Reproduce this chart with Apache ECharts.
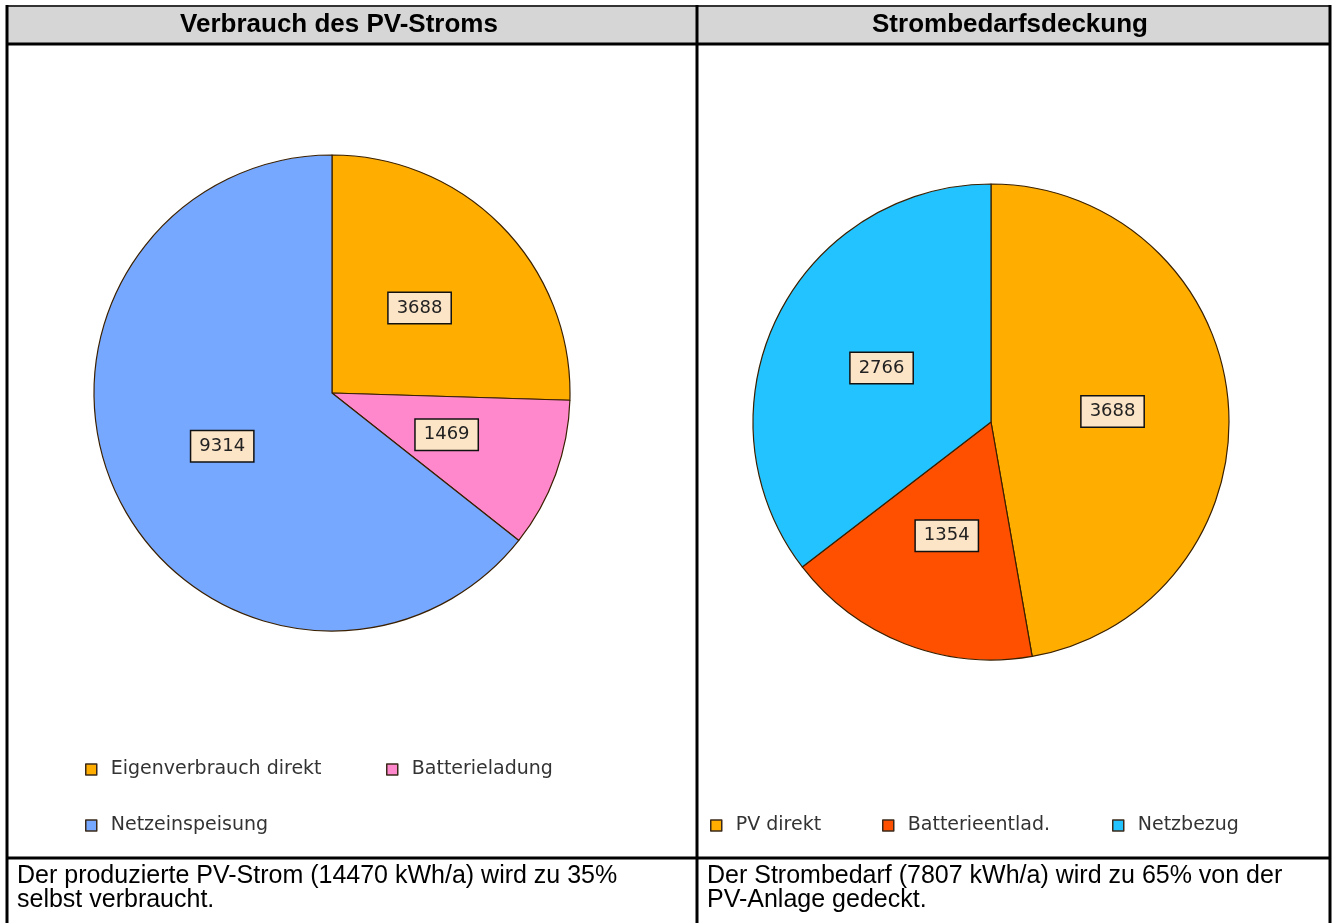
<!DOCTYPE html>
<html>
<head>
<meta charset="utf-8">
<script src="https://cdn.jsdelivr.net/npm/echarts@6/dist/echarts.min.js"></script>
<style>
  html, body { margin: 0; padding: 0; background: #fff; }
  #chart { width: 1337px; height: 923px; }
</style>
</head>
<body>
<div id="chart"></div>
<script>
// data
var pvNames = ['Eigenverbrauch direkt', 'Batterieladung', 'Netzeinspeisung'];
var pvValues = [3688, 1469, 9314];
var pvColors = ['#FFAE00', '#FF88CC', '#77A8FF'];

var demandNames = ['PV direkt', 'Batterieentlad.', 'Netzbezug'];
var demandValues = [3688, 1354, 2766];
var demandColors = ['#FFAE00', '#FF5000', '#22C3FF'];

var titles = ['Verbrauch des PV-Stroms', 'Strombedarfsdeckung'];
var notes = [
  'Der produzierte PV-Strom (14470 kWh/a) wird zu 35%\nselbst verbraucht.',
  'Der Strombedarf (7807 kWh/a) wird zu 65% von der\nPV-Anlage gedeckt.'
];

var chart = echarts.init(document.getElementById('chart'));

function toData(names, values, colors) {
  return names.map(function (n, i) {
    return { name: n, value: values[i], itemStyle: { color: colors[i] } };
  });
}

var labelStyle = {
  show: true,
  position: 'inside',
  formatter: '{c}',
  fontFamily: 'DejaVu Sans',
  fontSize: 18,
  color: '#222',
  backgroundColor: '#FCE4C6',
  borderColor: '#111',
  borderWidth: 1.5,
  padding: [7, 8, 5, 8]
};

function pieSeries(name, center, data) {
  return {
    name: name,
    type: 'pie',
    center: center,
    radius: 238,
    startAngle: 90,
    clockwise: true,
    avoidLabelOverlap: false,
    label: labelStyle,
    labelLine: { show: false },
    itemStyle: { borderColor: '#3a2000', borderWidth: 1.2 },
    emphasis: { disabled: true },
    data: data
  };
}

// one legend per item so each sits where it is in the picture
function legendAt(name, left, top) {
  return {
    data: [name],
    left: left,
    top: top,
    padding: 0,
    icon: 'rect',
    itemWidth: 11,
    itemHeight: 11,
    itemStyle: { borderColor: '#3b2a1a', borderWidth: 1.5 },
    textStyle: { fontFamily: 'DejaVu Sans', fontSize: 19, color: '#333', padding: [0, 0, 0, 9] },
    selectedMode: false
  };
}

var line = { stroke: '#000', lineWidth: 3 };

chart.setOption({
  animation: false,
  backgroundColor: '#fff',
  legend: [
    legendAt(pvNames[0], 85, 760),
    legendAt(pvNames[1], 386, 760),
    legendAt(pvNames[2], 85, 816),
    legendAt(demandNames[0], 710, 816),
    legendAt(demandNames[1], 882, 816),
    legendAt(demandNames[2], 1112, 816)
  ],
  series: [
    pieSeries('PV', [332, 393], toData(pvNames, pvValues, pvColors)),
    pieSeries('Bedarf', [991, 422], toData(demandNames, demandValues, demandColors))
  ],
  graphic: [
    { type: 'rect', z: -1, shape: { x: 7, y: 6, width: 1323, height: 38 }, style: { fill: '#D6D6D6' } },
    { type: 'line', shape: { x1: 7, y1: 6, x2: 1330, y2: 6 }, style: { stroke: '#333', lineWidth: 2 } },
    { type: 'line', shape: { x1: 7, y1: 44, x2: 1330, y2: 44 }, style: line },
    { type: 'line', shape: { x1: 7, y1: 858, x2: 1330, y2: 858 }, style: line },
    { type: 'line', shape: { x1: 7, y1: 5, x2: 7, y2: 923 }, style: line },
    { type: 'line', shape: { x1: 697, y1: 5, x2: 697, y2: 923 }, style: line },
    { type: 'line', shape: { x1: 1330, y1: 5, x2: 1330, y2: 923 }, style: line },
    { type: 'text', x: 339, y: 25, style: { text: titles[0], align: 'center', verticalAlign: 'middle', font: 'bold 26px "Liberation Sans"', fill: '#000' } },
    { type: 'text', x: 1010, y: 25, style: { text: titles[1], align: 'center', verticalAlign: 'middle', font: 'bold 26px "Liberation Sans"', fill: '#000' } },
    { type: 'text', x: 17, y: 864, style: { text: notes[0], font: '25px "Liberation Sans"', lineHeight: 24, fill: '#000' } },
    { type: 'text', x: 707, y: 864, style: { text: notes[1], font: '25px "Liberation Sans"', lineHeight: 24, fill: '#000' } }
  ]
});
</script>
</body>
</html>
